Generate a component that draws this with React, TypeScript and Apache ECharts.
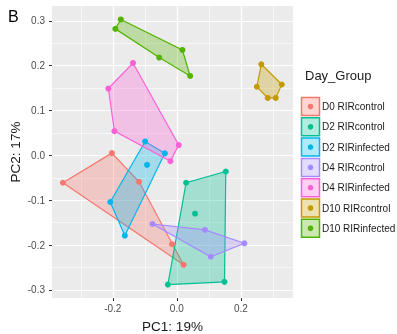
import React, { useEffect, useRef } from "react";
import * as echarts from "echarts";

const groups = [
  "D0 RIRcontrol",
  "D2 RIRcontrol",
  "D2 RIRinfected",
  "D4 RIRcontrol",
  "D4 RIRinfected",
  "D10 RIRcontrol",
  "D10 RIRinfected",
];
const colors = ["#F8766D", "#00C094", "#00B6EB", "#A58AFF", "#FB61D7", "#C49A00", "#53B400"];

const d0Control: number[][] = [[-0.203, 0.005], [-0.356, -0.061], [-0.118, -0.059], [-0.015, -0.198], [0.021, -0.244]];
const d2Control: number[][] = [[0.029, -0.061], [0.057, -0.13], [-0.028, -0.288], [0.153, -0.036], [0.149, -0.282]];
const d2Infected: number[][] = [[-0.099, 0.031], [-0.0375, 0.0045], [-0.093, -0.021], [-0.208, -0.104], [-0.1625, -0.179]];
const d4Control: number[][] = [[-0.076, -0.153], [0.088, -0.166], [0.211, -0.196], [0.106, -0.226]];
const d4Infected: number[][] = [[-0.137, 0.206], [-0.214, 0.149], [-0.195, 0.054], [0.006, 0.023], [-0.02, -0.013]];
const d10Control: number[][] = [[0.264, 0.203], [0.25, 0.153], [0.328, 0.158], [0.284, 0.128], [0.309, 0.128]];
const d10Infected: number[][] = [[-0.175, 0.303], [-0.192, 0.282], [0.0175, 0.235], [-0.055, 0.218], [0.0416, 0.177]];

const groupPoints = [d0Control, d2Control, d2Infected, d4Control, d4Infected, d10Control, d10Infected];

const xMajor = [-0.2, 0, 0.2];
const xMinor = [-0.3, -0.1, 0.1, 0.3];
const yMajor = [-0.3, -0.2, -0.1, 0, 0.1, 0.2, 0.3];
const yMinor = [-0.25, -0.15, -0.05, 0.05, 0.15, 0.25];

function hull(pts: number[][]): number[][] {
  const p = pts.slice().sort((a, b) => a[0] - b[0] || a[1] - b[1]);
  const cross = (o: number[], a: number[], b: number[]) =>
    (a[0] - o[0]) * (b[1] - o[1]) - (a[1] - o[1]) * (b[0] - o[0]);
  const lower: number[][] = [];
  for (const q of p) {
    while (lower.length >= 2 && cross(lower[lower.length - 2], lower[lower.length - 1], q) <= 0) lower.pop();
    lower.push(q);
  }
  const upper: number[][] = [];
  for (let i = p.length - 1; i >= 0; i--) {
    const q = p[i];
    while (upper.length >= 2 && cross(upper[upper.length - 2], upper[upper.length - 1], q) <= 0) upper.pop();
    upper.push(q);
  }
  upper.pop();
  lower.pop();
  return lower.concat(upper);
}

function alpha(hex: string, a: number) {
  const r = parseInt(hex.slice(1, 3), 16);
  const g = parseInt(hex.slice(3, 5), 16);
  const b = parseInt(hex.slice(5, 7), 16);
  return `rgba(${r},${g},${b},${a})`;
}

const FONT = "'Liberation Sans', Arial, sans-serif";
const X_MIN = -0.39, X_MAX = 0.363, Y_MIN = -0.318, Y_MAX = 0.333;

export default function App() {
  const ref = useRef<HTMLDivElement>(null);
  useEffect(() => {
    const chart = echarts.init(ref.current!, null, { renderer: "svg" });
    const fmt = (v: number) => (Math.abs(v) < 1e-9 ? "0.0" : v.toFixed(1));

    const polySeries = groups.map((g, i) => {
      const h = hull(groupPoints[i]);
      return {
        type: "custom",
        name: g,
        xAxisIndex: 0,
        yAxisIndex: 0,
        data: [0],
        silent: true,
        z: 2,
        renderItem: (_p: any, api: any) => ({
          type: "polygon",
          shape: { points: h.map((pt) => api.coord(pt)) },
          style: { fill: alpha(colors[i], 0.3), stroke: colors[i], lineWidth: 1.2 },
        }),
      };
    });
    const ptSeries = groups.map((g, i) => ({
      type: "scatter",
      name: g,
      xAxisIndex: 0,
      yAxisIndex: 0,
      data: groupPoints[i],
      symbolSize: 6,
      itemStyle: { color: colors[i], opacity: 1 },
      z: 3,
    }));

    const legendTop = 97;
    const legendStep = 20.3;
    const legendGraphics: any[] = [];
    groups.forEach((g, i) => {
      const top = legendTop + i * legendStep;
      legendGraphics.push(
        {
          type: "rect",
          shape: { x: 301.5, y: top + 0.5, width: 18, height: 18 },
          style: { fill: alpha(colors[i], 0.3), stroke: colors[i], lineWidth: 1.5 },
          z: 100,
        },
        {
          type: "circle",
          shape: { cx: 310.5, cy: top + 9.5, r: 2.8 },
          style: { fill: colors[i] },
          z: 101,
        },
        {
          type: "text",
          x: 322,
          y: top + 9.5,
          style: {
            text: g,
            fontFamily: FONT,
            fontSize: 10,
            fill: "#1a1a1a",
            verticalAlign: "middle",
            align: "left",
          },
          z: 101,
        }
      );
    });

    const baseAxis = {
      type: "value",
      axisLine: { show: false, onZero: false },
    };

    chart.setOption({
      animation: false,
      grid: [
        {
          left: 52,
          right: 104,
          top: 6,
          bottom: 36,
          show: true,
          backgroundColor: "#EBEBEB",
          borderWidth: 0,
          containLabel: false,
          outerBoundsMode: "none",
        },
      ],
      xAxis: [
        {
          ...baseAxis,
          min: X_MIN,
          max: X_MAX,
          name: "PC1: 19%",
          nameLocation: "middle",
          nameGap: 21,
          nameMoveOverlap: false,
          nameTextStyle: { fontFamily: FONT, fontSize: 13.5, color: "#1a1a1a" },
          axisTick: { show: true, length: 3, lineStyle: { color: "#333", width: 1 }, customValues: xMajor },
          axisLabel: { customValues: xMajor, formatter: fmt, fontFamily: FONT, fontSize: 10, color: "#4D4D4D", margin: 5 },
          splitLine: { show: true, lineStyle: { color: "#FFFFFF", width: 1.2 } },
          z: 1,
        },
        {
          ...baseAxis,
          min: X_MIN,
          max: X_MAX,
          axisTick: { show: false, customValues: xMinor },
          axisLabel: { show: false, customValues: xMinor },
          splitLine: { show: true, lineStyle: { color: "#FFFFFF", width: 0.6 } },
          z: 0,
        },
      ],
      yAxis: [
        {
          ...baseAxis,
          min: Y_MIN,
          max: Y_MAX,
          name: "PC2: 17%",
          nameLocation: "middle",
          nameGap: 30,
          nameMoveOverlap: false,
          nameTextStyle: { fontFamily: FONT, fontSize: 13.5, color: "#1a1a1a" },
          axisTick: { show: true, length: 3, lineStyle: { color: "#333", width: 1 }, customValues: yMajor },
          axisLabel: { customValues: yMajor, formatter: fmt, fontFamily: FONT, fontSize: 10, color: "#4D4D4D", margin: 7 },
          splitLine: { show: true, lineStyle: { color: "#FFFFFF", width: 1.2 } },
        },
        {
          ...baseAxis,
          min: Y_MIN,
          max: Y_MAX,
          axisTick: { show: false, customValues: yMinor },
          axisLabel: { show: false, customValues: yMinor },
          splitLine: { show: true, lineStyle: { color: "#FFFFFF", width: 0.6 } },
        },
      ],
      graphic: [
        { type: "text", left: 8, top: 8, style: { text: "B", fontFamily: FONT, fontSize: 16, fill: "#000" } },
        { type: "text", left: 305, top: 69, style: { text: "Day_Group", fontFamily: FONT, fontSize: 13, fill: "#1a1a1a" } },
        ...legendGraphics,
      ],
      series: [...polySeries, ...ptSeries],
    });
    return () => chart.dispose();
  }, []);
  return <div ref={ref} style={{ position: "fixed", left: 0, top: 0, width: 397, height: 334 }} />;
}
